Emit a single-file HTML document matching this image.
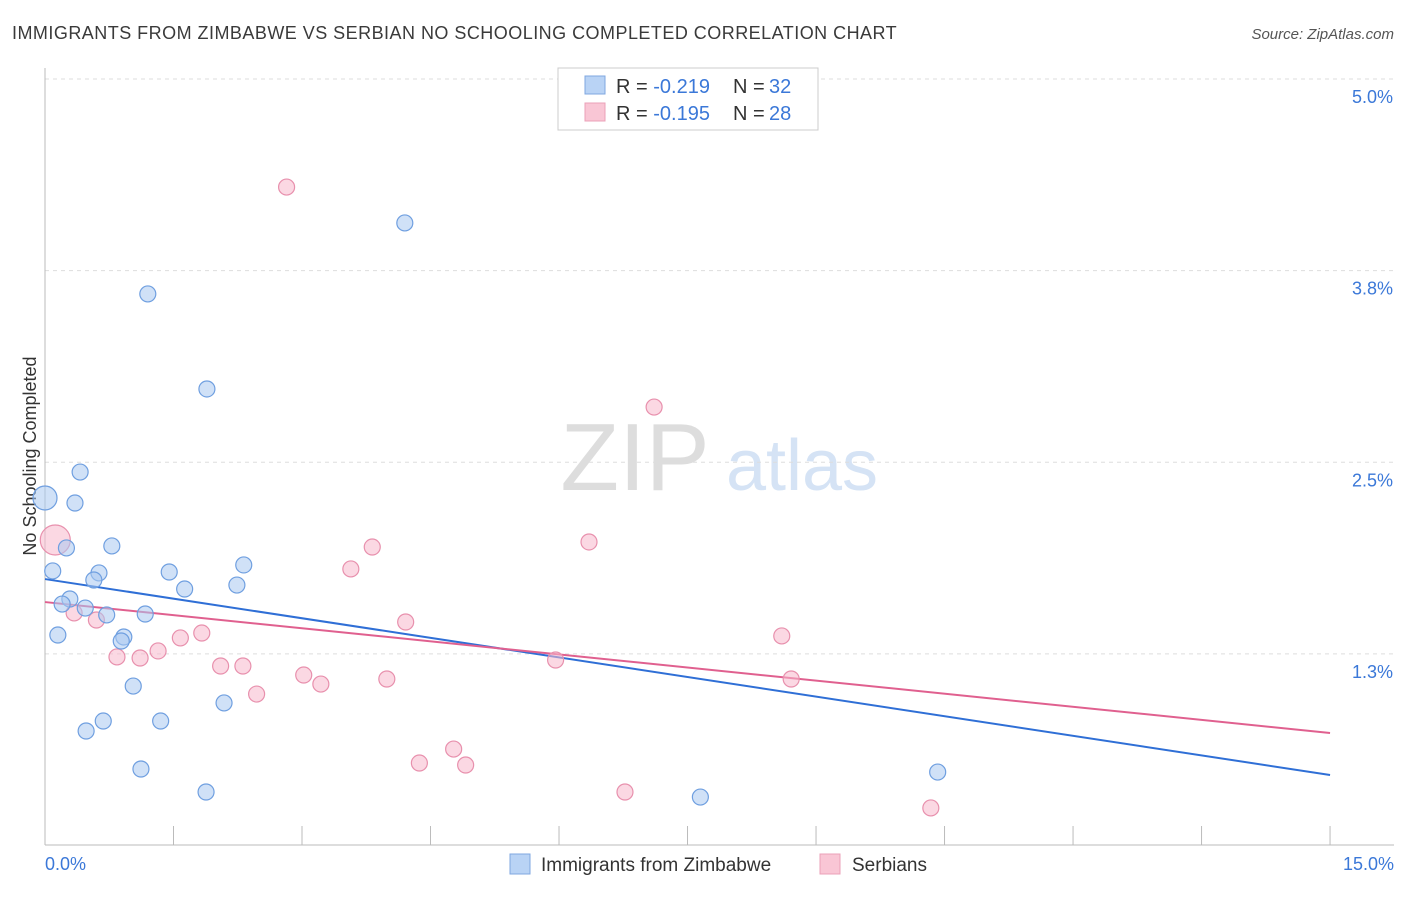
<!DOCTYPE html>
<html><head><meta charset="utf-8"><style>
body{margin:0;background:#fff;font-family:"Liberation Sans",sans-serif;}
svg text{font-family:"Liberation Sans",sans-serif;}
</style></head><body>
<svg id="chart" width="1406" height="892" xmlns="http://www.w3.org/2000/svg">
<text x="12" y="39" font-size="18" fill="#3a3a3a" letter-spacing="0.47">IMMIGRANTS FROM ZIMBABWE VS SERBIAN NO SCHOOLING COMPLETED CORRELATION CHART</text>
<text x="1394" y="39" font-size="15" fill="#555" font-style="italic" text-anchor="end">Source: ZipAtlas.com</text>
<text x="36" y="456" font-size="18" fill="#333" text-anchor="middle" transform="rotate(-90 36 456)">No Schooling Completed</text>
<g>
<text x="635" y="490" font-size="96" fill="#ddd" font-family="Liberation Serif" text-anchor="middle">ZIP</text>
<text x="802" y="490" font-size="72" fill="#d5e3f5" text-anchor="middle">atlas</text>
</g>
<g id="grid"></g><g id="axes"></g><g id="lines"></g><g id="pts"></g>
<g>
<rect x="558" y="68" width="260" height="62" fill="#fff" stroke="#ccc"/>
<rect x="585" y="76" width="20" height="18" fill="#b9d3f5" stroke="#7fa7e0"/>
<rect x="585" y="103" width="20" height="18" fill="#f9c6d5" stroke="#eba0b8"/>
<text x="616" y="93" font-size="20" fill="#333">R = <tspan fill="#3b78d8">-0.219</tspan></text>
<text x="733" y="93" font-size="20" fill="#333">N = </text>
<text x="769" y="93" font-size="20" fill="#3b78d8">32</text>
<text x="616" y="120" font-size="20" fill="#333">R = <tspan fill="#3b78d8">-0.195</tspan></text>
<text x="733" y="120" font-size="20" fill="#333">N = </text>
<text x="769" y="120" font-size="20" fill="#3b78d8">28</text>
</g>
<g>
<rect x="510" y="854" width="20" height="20" fill="#b9d3f5" stroke="#7fa7e0"/>
<text x="541" y="871" font-size="19" fill="#333">Immigrants from Zimbabwe</text>
<rect x="820" y="854" width="20" height="20" fill="#f9c6d5" stroke="#eba0b8"/>
<text x="852" y="871" font-size="19" fill="#333">Serbians</text>
</g>
</svg>
<script>
const blueX=[0.00,0.09,0.25,0.41,0.35,0.78,0.63,0.57,0.29,0.20,0.47,0.72,0.15,0.92,0.89,1.17,1.45,1.63,2.24,2.32,1.89,1.20,4.20,1.03,0.68,1.35,0.48,2.09,1.12,1.88,7.65,10.42];
const blueY=[2.267,1.791,1.941,2.436,2.234,1.954,1.778,1.732,1.608,1.575,1.549,1.504,1.373,1.360,1.334,1.510,1.784,1.673,1.699,1.830,2.978,3.598,4.061,1.040,0.812,0.812,0.747,0.930,0.499,0.349,0.316,0.479];
const pinkX=[2.82,7.11,0.12,3.82,3.57,6.35,0.34,0.60,4.21,1.83,1.58,1.32,0.84,1.11,2.05,2.31,2.47,3.02,3.22,3.99,5.96,8.60,8.71,4.77,4.37,4.91,6.77,10.34];
const pinkY=[4.295,2.860,1.993,1.947,1.804,1.980,1.517,1.471,1.458,1.386,1.354,1.269,1.230,1.223,1.171,1.171,0.988,1.112,1.053,1.086,1.210,1.367,1.086,0.629,0.538,0.525,0.349,0.245];
const blueTrend=[1.738,0.460];
const pinkTrend=[1.588,0.734];
const yTicks=[5.0,3.75,2.5,1.25];
const yTickLabels=["5.0%","3.8%","2.5%","1.3%"];
const xTicks=[0,1.5,3,4.5,6,7.5,9,10.5,12,13.5,15];
const xEndLabels=["0.0%","15.0%"];
const NS="http://www.w3.org/2000/svg";
const xs=v=>45+v*85.67, ys=v=>79+(5-v)*153.3;
function mk(t,a,p){const e=document.createElementNS(NS,t);for(const k in a)e.setAttribute(k,a[k]);document.getElementById(p).appendChild(e);return e;}
yTicks.forEach((v,i)=>{
 const g=mk('line',{x1:45,x2:1394,y1:ys(v),y2:ys(v),stroke:'#ddd','stroke-dasharray':'4,4'},'grid');
 
 
 const t=mk('text',{x:1393,y:ys(v)+24,'font-size':18,fill:'#3b78d8','text-anchor':'end'},'grid');
 t.textContent=yTickLabels[i];
 
 
});
const ax=mk('line',{x1:45,x2:45,y1:68,y2:845,stroke:'#bbb'},'axes');


const bx=mk('line',{x1:45,x2:1394,y1:845,y2:845,stroke:'#bbb'},'axes');


xTicks.forEach(v=>{
 const t=mk('line',{x1:xs(v),x2:xs(v),y1:826,y2:845,stroke:'#bbb'},'axes');
 
 
});
[[0,'start',45],[15,'end',1394]].forEach((d,i)=>{
 const t=mk('text',{x:d[2],y:870,'font-size':18,fill:'#3b78d8','text-anchor':d[1]},'axes');
 t.textContent=xEndLabels[i];
 
 
});
function pts(X,Y,fill,stroke,name,big){
 X.forEach((x,i)=>{
  const c=mk('circle',{cx:xs(x),cy:ys(Y[i]),r:(i===big.i?big.r:8),fill:fill,'fill-opacity':0.55,stroke:stroke,'stroke-width':1.2},'pts');
  
  
 });
}
pts(pinkX,pinkY,'#f7b8cc','#e890ad','serbian-point',{i:2,r:15});
pts(blueX,blueY,'#a9c8f0','#6f9fe0','zimbabwe-point',{i:0,r:12});
const l1=mk('line',{x1:xs(0),y1:ys(blueTrend[0]),x2:xs(15),y2:ys(blueTrend[1]),stroke:'#2f6fd6','stroke-width':2},'lines');


const l2=mk('line',{x1:xs(0),y1:ys(pinkTrend[0]),x2:xs(15),y2:ys(pinkTrend[1]),stroke:'#e0608f','stroke-width':2},'lines');


</script>
</body></html>
